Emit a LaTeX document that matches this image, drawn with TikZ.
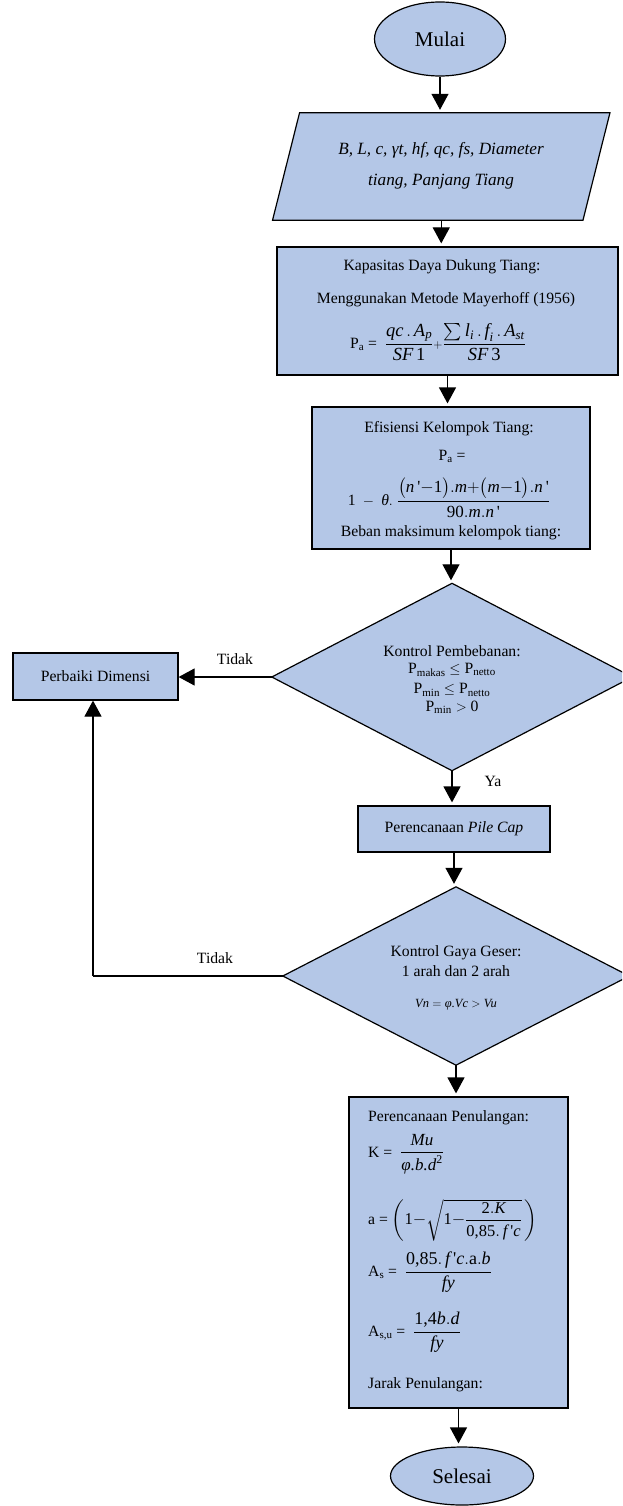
\documentclass[tikz,border=0pt]{standalone}
\usepackage{amsmath}
\usepackage{fontspec}
\setmainfont{Liberation Serif}
\usetikzlibrary{arrows.meta,calc,shapes.geometric}
\definecolor{boxfill}{HTML}{B4C7E7}
% italic variable names and upright numbers inside formulas
\newcommand{\vr}[1]{\textit{#1}}
\newcommand{\nm}[1]{\textup{#1}}
\newcommand{\prm}{\,\textup{\textquotesingle}}
% larger size for the fraction parts
\newcommand{\fsize}[2]{{\fontsize{#1}{#1}\selectfont #2}}
\begin{document}
\begin{tikzpicture}[x=1pt,y=-1pt,
  every node/.style={font=\fontsize{15.7}{18}\selectfont, text=black, inner sep=0pt},
  bigtext/.style={font=\fontsize{21}{24}\selectfont},
  ittext/.style={font=\fontsize{17.2}{20}\selectfont\itshape},
  smalltext/.style={font=\fontsize{12.5}{14}\selectfont},
  shapebox/.style={draw=black, fill=boxfill, line width=1.2pt},
  arr/.style={-{Triangle[width=17pt,length=16pt]}, line width=1.2pt, shorten >=3pt},
  loopArr/.style={arr, shorten >=0pt}]
\useasboundingbox (0,0) rectangle (622,1506);
\clip (0,0) rectangle (622,1506);

% start
\node[ellipse, shapebox, bigtext, minimum width=131pt, minimum height=74pt] (mulai) at (440,39) {Mulai};

% input data (parallelogram)
\node[minimum width=310pt, minimum height=107pt] (input) at (441.25,166.5) {};
\draw[shapebox] ($(input.north west)+(13.5,0)$) -- ($(input.north east)+(13.5,0)$)
  -- ($(input.south east)+(-13.5,0)$) -- ($(input.south west)+(-13.5,0)$) -- cycle;
\node[ittext] (inputA) at (441,150) {B, L, c, γt, hf, qc, fs, Diameter};
\node[ittext] (inputB) at (441,182) {tiang, Panjang Tiang};

% bearing capacity
\node[shapebox, minimum width=341pt, minimum height=128pt] (cap) at (447.5,311) {};
\node (capA) at (442,267) {Kapasitas Daya Dukung Tiang:};
\node (capB) at (446,300) {Menggunakan Metode Mayerhoff (1956)};
\node (capC) at (438,342) {P\textsubscript{a} =\ \ \fsize{18.5}{$\dfrac{\vr{qc}\,.\,\vr{A}_{\vr{p}}}{\vr{SF}\,\nm{1}}{\scriptstyle+}\dfrac{\sum \vr{l}_{\vr{i}}\,.\,\vr{f}_{\vr{i}}\,.\,\vr{A}_{\vr{st}}}{\vr{SF}\,\nm{3}}$}};

% group efficiency
\node[shapebox, minimum width=278pt, minimum height=142pt] (eff) at (451,478) {};
\node (effA) at (449,429) {Efisiensi Kelompok Tiang:};
\node (effB) at (452,456) {P\textsubscript{a} =};
\node (effC) at (449,498) {$\nm{1}\ -\ \vr{θ}.\ $\fsize{17}{$\dfrac{\bigl(\vr{n}\prm{-}\nm{1}\bigr).\vr{m}{+}\bigl(\vr{m}{-}\nm{1}\bigr).\vr{n}\prm}{\nm{90}.\vr{m}.\vr{n}\prm}$}};
\node (effD) at (451,533) {Beban maksimum kelompok tiang:};

% load check
\node[minimum width=360pt, minimum height=187pt] (d1) at (452,677) {};
\draw[shapebox] (d1.north) -- (d1.east) -- (d1.south) -- (d1.west) -- cycle;
\node (d1A) at (452,651) {Kontrol Pembebanan:};
\node (d1B) at (452,670) {P\textsubscript{makas} $\le$ P\textsubscript{netto}};
\node (d1C) at (452,690) {P\textsubscript{min} $\le$ P\textsubscript{netto}};
\node (d1D) at (452,707) {P\textsubscript{min} $>$ 0};

% redesign
\node[shapebox, minimum width=165pt, minimum height=47pt] (perb) at (95.5,676.5) {Perbaiki Dimensi};
\node (tidakA) at (235,659) {Tidak};
\node (ya) at (493,781) {Ya};

% pile cap
\node[shapebox, minimum width=192pt, minimum height=46pt] (pile) at (454,829) {Perencanaan \textit{Pile Cap}};

% shear check
\node[minimum width=346pt, minimum height=178pt] (d2) at (456,976) {};
\draw[shapebox] (d2.north) -- (d2.east) -- (d2.south) -- (d2.west) -- cycle;
\node (d2A) at (456,953) {Kontrol Gaya Geser:};
\node (d2B) at (456,971) {1 arah dan 2 arah};
\node[smalltext] (d2C) at (456,1005) {$\vr{Vn} = \vr{φ.Vc} > \vr{Vu}$};
\node (tidakB) at (215,958) {Tidak};
\coordinate (loop) at (93,976);

% reinforcement design
\node[shapebox, minimum width=219pt, minimum height=311pt] (tul) at (458.5,1252.5) {};
\node[anchor=west] (tulA) at (368,1118) {Perencanaan Penulangan:};
\node[anchor=west] (tulK) at (368,1154) {K =\ \ \fsize{17}{$\dfrac{\vr{Mu}}{\vr{φ.b.d}^{\nm{2}}}$}};
\node[anchor=west] (tulR) at (368,1220) {a = \fsize{16.5}{$\left(\nm{1}{-}\sqrt{\nm{1}{-}\dfrac{\nm{2}.\vr{K}}{\nm{0,85}.\,\vr{f}\prm\vr{c}}}\,\right)$}};
\node[anchor=west] (tulS) at (368,1272) {A\textsubscript{s} =\ \ \fsize{18}{$\dfrac{\nm{0,85}.\,\vr{f}\prm\vr{c}.\nm{a}.\vr{b}}{\vr{fy}}$}};
\node[anchor=west] (tulU) at (368,1332) {A\textsubscript{s,u} =\ \ \fsize{18}{$\dfrac{\nm{1,4}\vr{b}.\vr{d}}{\vr{fy}}$}};
\node[anchor=west] (tulJ) at (368,1385) {Jarak Penulangan:};

% end
\node[ellipse, shapebox, bigtext, minimum width=143pt, minimum height=58pt] (selesai) at (462,1476) {Selesai};

% connectors
\draw[arr] (mulai.south) -- (mulai.south |- input.north);
\draw[arr] (input.south) -- (input.south |- cap.north);
\draw[arr] (cap.south) -- (cap.south |- eff.north);
\draw[arr] (eff.south) -- (eff.south |- d1.north);
\draw[arr] (d1.south) -- (d1.south |- pile.north);
\draw[loopArr] (d1.west) -- (perb.east |- d1.west);
\draw[arr] (pile.south) -- (pile.south |- d2.north);
\draw[arr] (d2.south) -- (d2.south |- tul.north);
\draw[line width=1.2pt] (d2.west) -- (loop);
\draw[loopArr] (loop) -- (loop |- perb.south);
\draw[arr] (tul.south) -- (tul.south |- selesai.north);
\end{tikzpicture}
\end{document}
